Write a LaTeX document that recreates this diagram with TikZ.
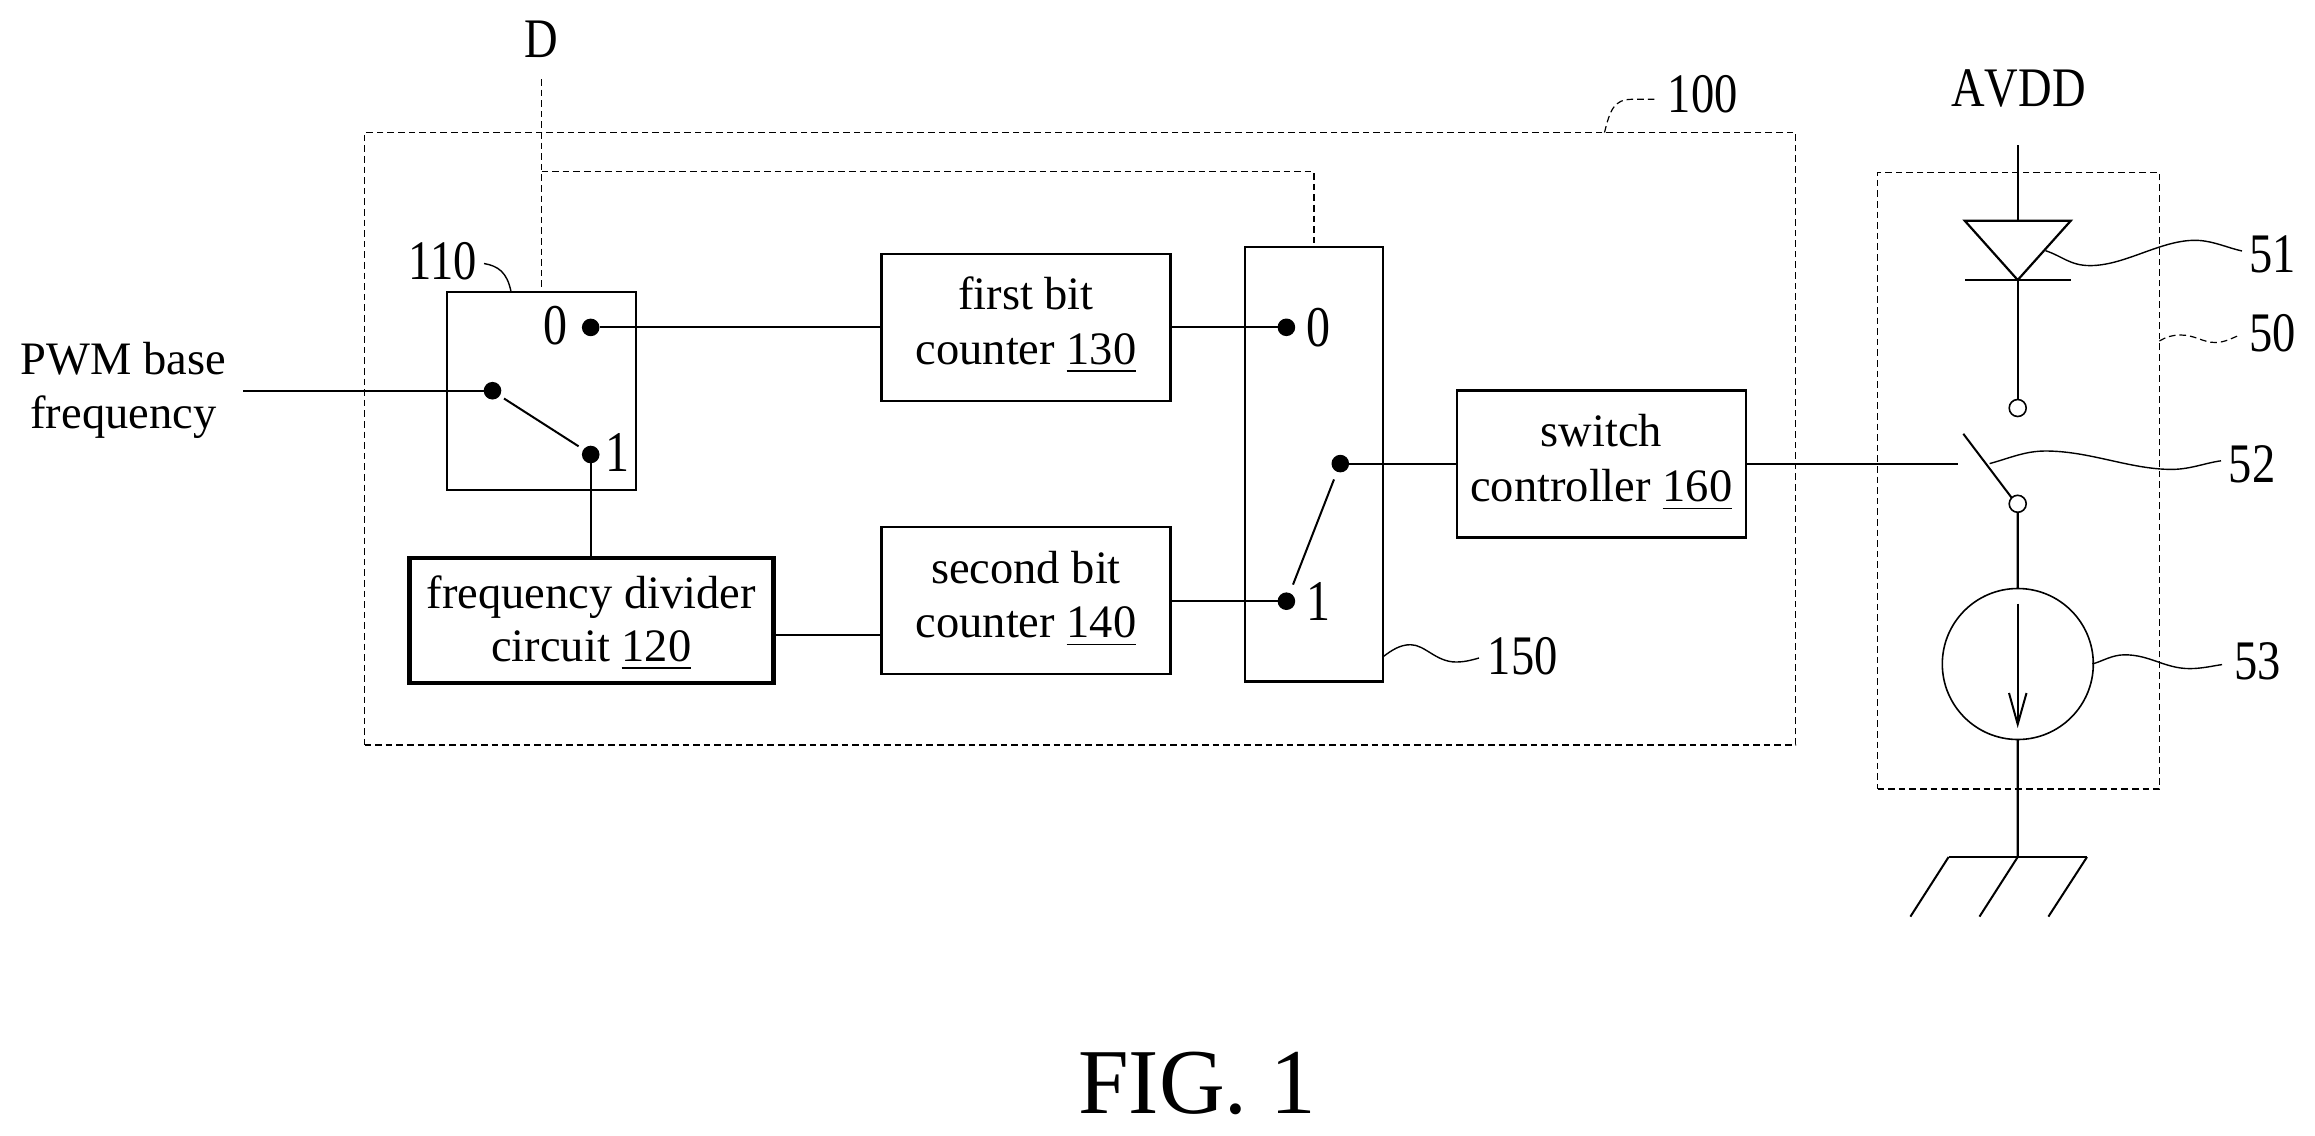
\documentclass[tikz,border=0pt]{standalone}
\usepackage{fontspec}
\usepackage{graphicx}
\setmainfont{Liberation Serif}
\newfontfamily\nokernfont[Kerning=Off]{Liberation Serif}
\newcommand\tallt[1]{\scalebox{1}[1.2]{#1}}
\newcommand\ulnum[1]{\setbox0\hbox{#1}\rlap{\rule[-3.8pt]{\wd0}{0.6pt}}\box0 }
\tikzset{
  bodyfont/.style={font=\fontsize{23.25}{27.25}\selectfont},
  blockbox/.style={draw,line width=1.1pt,inner sep=0pt,outer sep=0pt,align=center,bodyfont,text depth=0pt},
  dashbox/.style={draw,line width=.65pt,inner sep=0pt,outer sep=0pt,dash pattern=on 3.3pt off 2pt},
  dashline/.style={line width=.65pt,dash pattern=on 3.3pt off 2pt},
  wire/.style={line width=1.1pt},
  thinwire/.style={line width=1pt},
  leaderline/.style={line width=.7pt},
  dotnode/.style={circle,fill=black,minimum size=8.8pt,inner sep=0pt,outer sep=0pt},
  ringnode/.style={circle,draw,line width=.8pt,fill=white,minimum size=8.5pt,inner sep=0pt,outer sep=0pt},
  labeltext/.style={font=\fontsize{23.25}{26}\selectfont,inner sep=0pt,outer sep=0pt,anchor=base},
  digittext/.style={font=\fontsize{24}{26}\selectfont,inner sep=0pt,outer sep=0pt,anchor=base},
}
\begin{document}
\begin{tikzpicture}[x=0.5pt,y=-0.5pt]
\useasboundingbox (0,0) rectangle (2315,1136);

% dashed enclosures
\node[dashbox,minimum width=715.5pt,minimum height=306.25pt] (b100) at (1080,438.75) {};
\node[dashbox,minimum width=140.9pt,minimum height=308.2pt] (b50) at (2018.5,480.8) {};

% blocks
\node[draw,line width=1pt,inner sep=0pt,outer sep=0pt,minimum width=94.25pt,minimum height=99.25pt] (b110) at (541.25,390.75) {};
\node[blockbox,line width=2.2pt,font=\fontsize{23.25}{26.3}\selectfont,text height=40.5pt,minimum width=182pt,minimum height=62.5pt] (b120) at (591.3,620.5) {frequency divider\\circuit \ulnum{120}};
\node[blockbox,text height=36.7pt,minimum width=144.5pt,minimum height=73.5pt] (b130) at (1026,327.3) {first bit\\counter \ulnum{130}};
\node[blockbox,text height=36.9pt,minimum width=144.5pt,minimum height=73.7pt] (b140) at (1026,600.6) {second bit\\counter \ulnum{140}};
\node[draw,line width=1.1pt,inner sep=0pt,outer sep=0pt,minimum width=68.85pt,minimum height=217.4pt] (b150) at (1313.85,464) {};
\node[blockbox,text height=37.2pt,minimum width=144.5pt,minimum height=73.5pt] (b160) at (1601.25,464) {switch\\controller \ulnum{160}};

% outer labels
\node[labeltext] (lD) at (541.5,57) {\tallt{D}};
\node[labeltext] (lAVDD) at (2018.5,106) {\nokernfont\tallt{AVDD}};
\node[labeltext] (l100) at (1702.7,112.7) {\tallt{100}};
\node[labeltext] (l110) at (443,279) {\tallt{110}};
\node[labeltext] (l150) at (1522.7,674) {\tallt{150}};
\node[labeltext] (l51) at (2272.5,272.5) {\tallt{51}};
\node[labeltext] (l50) at (2272.5,351.7) {\tallt{50}};
\node[labeltext] (l52) at (2252,482) {\tallt{52}};
\node[labeltext] (l53) at (2257.4,679) {\tallt{53}};
\node[inner sep=0pt,outer sep=0pt,anchor=base,align=center,font=\fontsize{23.25}{26.85}\selectfont] (lPWM) at (123.4,428.5) {PWM base\\frequency};
\node[inner sep=0pt,outer sep=0pt,anchor=base,font=\fontsize{45.5}{50}\selectfont] (lfig) at (1197.2,1113.3) {\scalebox{1}[1.02]{FIG. 1}};

% switch 110
\node[dotnode] (s0) at (590.7,327.4) {};
\node[dotnode] (sc) at (492.5,390.7) {};
\node[dotnode] (s1) at (590.7,454.5) {};
\node[digittext] (t0a) at (555.7,344.5) {\tallt{0}};
\node[digittext] (t1a) at (617.7,471) {\tallt{1}};
% switch 150
\node[dotnode] (m0) at (1286.4,327.3) {};
\node[dotnode] (m1) at (1286.4,601.2) {};
\node[dotnode] (mc) at (1340.3,463.6) {};
\node[digittext] (t0b) at (1318,346.5) {\tallt{0}};
\node[digittext] (t1b) at (1318.5,620.5) {\tallt{1}};

% wires
\coordinate (pwmin) at (243.4,390.7);
\draw[wire] (pwmin) -- (sc);
\draw[thinwire] (s0) -- (s0 -| b130.west);
\draw[thinwire] (s1) -- (s1 |- b120.north);
\draw[thinwire] (b120.east |- 0,635.3) -- (b140.west |- 0,635.3);
\draw[wire] (b130.east |- m0) -- (m0);
\draw[wire] (b140.east |- m1) -- (m1);
\draw[wire] (mc) -- (mc -| b160.west);
\coordinate (a1a) at (504,398.5);
\coordinate (a1b) at (578.6,446.3);
\draw[thinwire] (a1a) -- (a1b);
\coordinate (a2a) at (1293,584.6);
\coordinate (a2b) at (1334,479.4);
\draw[thinwire] (a2a) -- (a2b);

% control line D
\coordinate (Dtop) at (541.5,79);
\coordinate (Dj) at (541.5,171.7);
\draw[dashline] (Dtop) -- (Dtop |- b110.north);
\draw[dashline] (Dj) -| (b150.north);

% right branch
\coordinate (vt) at (2017.7,145);
\coordinate (da) at (1964.8,220.8);
\coordinate (db) at (2070.7,220.8);
\coordinate (dt) at (2017.7,220.8);
\coordinate (dk) at (2017.7,280);
\coordinate (bl) at (1965,280);
\coordinate (br) at (2071,280);
\node[ringnode] (r1) at (2017.7,408) {};
\node[ringnode] (r2) at (2017.7,503.8) {};
\node[circle,draw,line width=.8pt,minimum size=75.5pt,inner sep=0pt,outer sep=0pt] (cs) at (2017.8,664) {};
\draw[wire] (vt) -- (dt);
\draw[wire,line join=miter] (da) -- (db) -- (dk) -- cycle;
\draw[wire] (bl) -- (br);
\draw[wire] (dk) -- (r1.north);
\coordinate (swh) at (1963.3,433.8);
\draw[thinwire] (swh) -- (r2.north west);
\coordinate (swe) at (1958,463.6);
\draw[thinwire] (b160.east |- swe) -- (swe);
\draw[wire] (r2.south) -- (cs.north);
\coordinate (arrt) at (2017.7,603.7);
\coordinate (arrb) at (2017.7,724.3);
\draw[thinwire] (arrt) -- (arrb);
\draw[thinwire,line join=miter] (2009,693) -- (arrb) -- (2026.5,693);
% ground
\coordinate (g) at (2017.7,857);
\draw[wire] (cs.south) -- (g);
\coordinate (gl) at (1948.6,857);
\coordinate (gr) at (2087,857);
\draw[thinwire] (gl) -- (gr);
\draw[thinwire] (gl) -- (1910.4,916.6);
\draw[thinwire] (g) -- (1979.5,916.6);
\draw[thinwire] (gr) -- (2048.4,916.6);

% leaders
\draw[leaderline] (484,263.5) .. controls (498,266) and (507,272) .. (511,291.5);
\draw[dashline,line width=.6pt] (1604.5,132.5) .. controls (1610,110) and (1614,99.3) .. (1632,99.3) -- (1656,99.3);
\draw[leaderline] (1382.7,657) .. controls (1392,650) and (1400,644.7) .. (1410.6,644.7) .. controls (1425,644.7) and (1436,662) .. (1456,662) .. controls (1465,662) and (1472,660) .. (1479,658);
\draw[leaderline] (2045.5,250.7) .. controls (2062,256) and (2070,265.6) .. (2090,265.6) .. controls (2125,265.6) and (2160,240.3) .. (2195,240.3) .. controls (2212,240.3) and (2228,248) .. (2242,251);
\draw[dashline,line width=.6pt] (2159.4,341) .. controls (2166,337) and (2172,335) .. (2180.6,335) .. controls (2195,335) and (2203,342.5) .. (2215,342.5) .. controls (2225,342.5) and (2232,338) .. (2240,335);
\draw[leaderline] (1989.6,463.6) .. controls (2010,458) and (2025,451) .. (2045.5,451) .. controls (2090,451) and (2130,469.4) .. (2171.6,469.4) .. controls (2190,469.4) and (2205,463) .. (2221,460.8);
\draw[leaderline] (2092.3,664) .. controls (2103,661) and (2112,654.8) .. (2124.8,654.8) .. controls (2150,654.8) and (2165,668.6) .. (2189.6,668.6) .. controls (2202,668.6) and (2212,666) .. (2222,664.6);
\end{tikzpicture}
\end{document}
